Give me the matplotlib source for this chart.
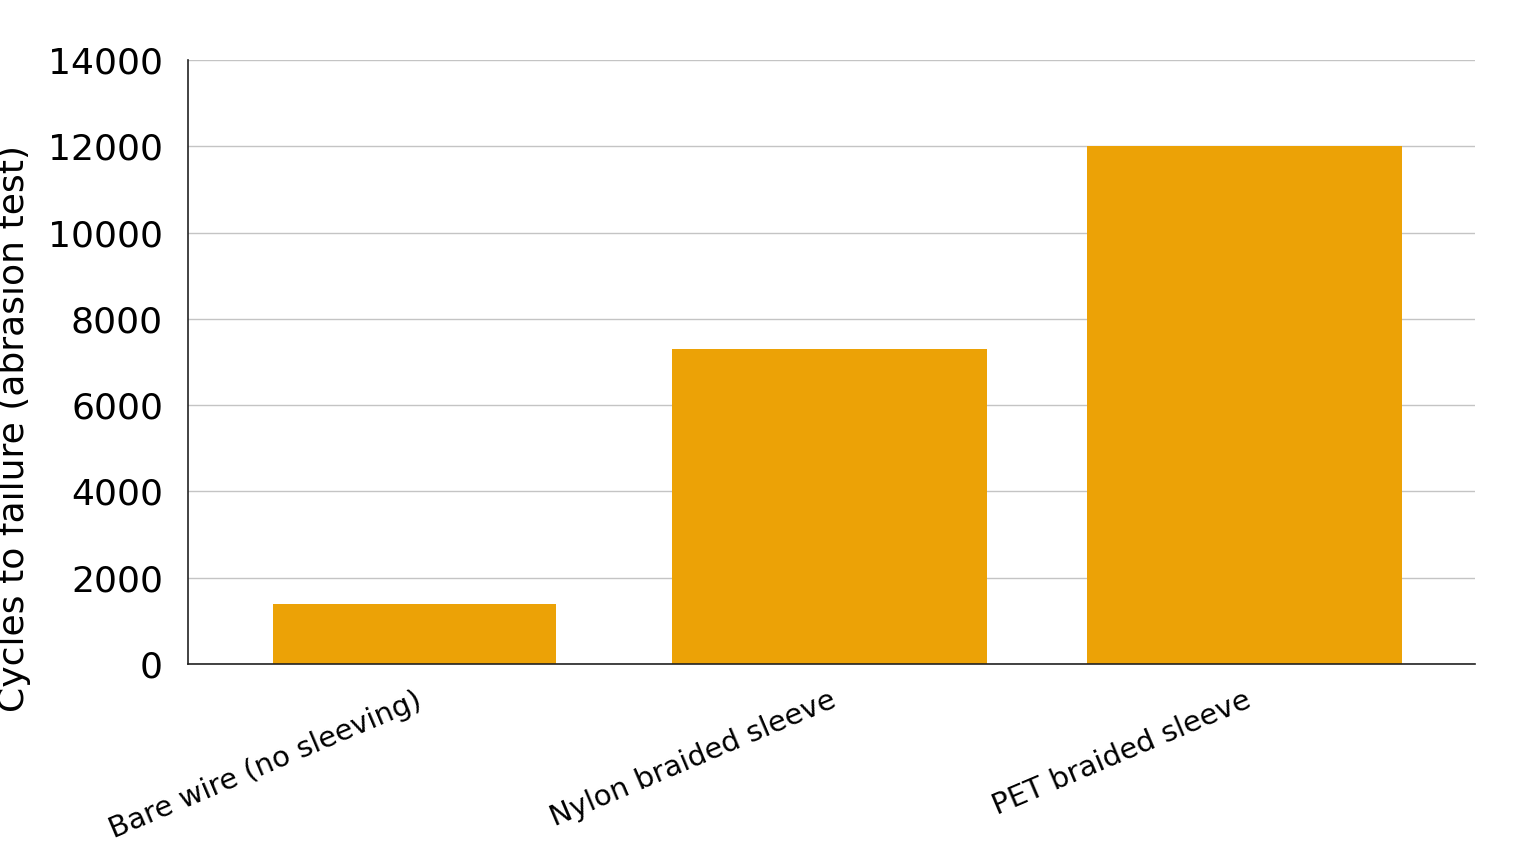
import matplotlib
matplotlib.use("Agg")
import matplotlib.pyplot as plt

categories = ["Bare wire (no sleeving)", "Nylon braided sleeve", "PET braided sleeve"]
cycles = [1400, 7300, 12000]
yticks = [0, 2000, 4000, 6000, 8000, 10000, 12000, 14000]

fig = plt.figure(figsize=(15.36, 8.64), dpi=100)
ax = fig.add_axes([188/1536, 1-664/864, (1475-188)/1536, (664-60)/864])

x = range(len(categories))
ax.bar(x, cycles, width=[0.68, 0.76, 0.76], color="#eca206", zorder=2)

ax.set_xlim(-0.546, 2.555)
ax.set_ylim(0, 14000)
ax.set_yticks(yticks)
ax.set_yticklabels([str(t) for t in yticks], fontsize=26)
ax.set_xticks(list(x))
ax.set_xticklabels(categories, fontsize=21, rotation=23, ha="right", rotation_mode="anchor")
ax.tick_params(axis="y", length=0, pad=18)
ax.tick_params(axis="x", length=0, pad=16)

ax.grid(axis="y", color="#c4c4c4", linewidth=1, zorder=0)
for s in ["top", "right"]:
    ax.spines[s].set_visible(False)
ax.spines["left"].set_color("#222222")
ax.spines["bottom"].set_color("#222222")
ax.spines["left"].set_linewidth(1.2)
ax.spines["bottom"].set_linewidth(1.2)

ax.set_ylabel("Cycles to failure (abrasion test)", fontsize=26)
ax.yaxis.set_label_coords(-0.122, 0.39)

fig.savefig("out.png", dpi=100)
